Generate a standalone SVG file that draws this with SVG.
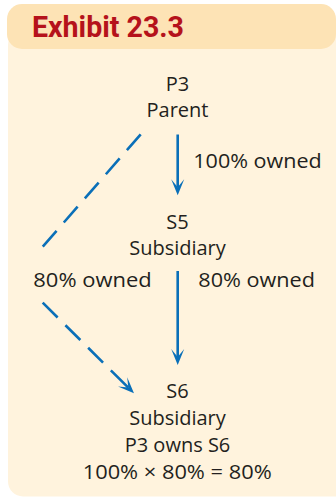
<svg xmlns="http://www.w3.org/2000/svg" width="336" height="498" viewBox="0 0 336 498">
  <style>
    .t { font-family: "Open Sans", "Noto Sans", "DejaVu Sans", sans-serif; font-size: 20px; fill: #231f20; text-anchor: middle; }
    .lbl { font-family: "Open Sans", "Noto Sans", "DejaVu Sans", sans-serif; font-size: 20px; fill: #231f20; }
    .title { font-family: Roboto, "Liberation Sans", sans-serif; font-weight: bold; font-size: 29px; fill: #b5121b; }
    .edge { stroke: #0a6fb8; stroke-width: 2.6; fill: none; }
    .dash { stroke-dasharray: 21 11; }
  </style>
  <defs>
    <marker id="arrow" viewBox="-17 -8 18 16" markerWidth="18" markerHeight="16" refX="-8" refY="0" orient="auto" markerUnits="userSpaceOnUse">
      <path d="M0,0 L-16,-6.5 L-8,0 L-16,6.5 Z" fill="#0a6fb8"/>
    </marker>
  </defs>
  <rect width="336" height="498" fill="#ffffff"/>
  <g id="frame">
    <rect x="8" y="30" width="345" height="466.5" rx="15" fill="#fff3dd"/>
    <rect x="7" y="4" width="329" height="45" rx="15" fill="#fde3b5"/>
    <text class="title" x="32" y="37" textLength="152" lengthAdjust="spacingAndGlyphs">Exhibit 23.3</text>
  </g>
  <g id="connectors">
    <line class="edge" x1="177.7" y1="134.5" x2="177.7" y2="187.3" marker-end="url(#arrow)"/>
    <line class="edge" x1="177.7" y1="271" x2="177.7" y2="357" marker-end="url(#arrow)"/>
    <line class="edge dash" x1="140.7" y1="134.3" x2="42.7" y2="246.7"/>
    <path class="edge" d="M42.7,302.7 L128.3,387.6" stroke-dasharray="21 11 21 11 21 11 30" marker-end="url(#arrow)"/>
    <text class="lbl" x="193.3" y="168.3" textLength="128.4" lengthAdjust="spacingAndGlyphs">100% owned</text>
    <text class="lbl" x="33.3" y="286.7" textLength="118.4" lengthAdjust="spacingAndGlyphs">80% owned</text>
    <text class="lbl" x="198.3" y="286.7" textLength="116.7" lengthAdjust="spacingAndGlyphs">80% owned</text>
  </g>
  <g id="P3">
    <text class="t" x="177.5" y="90.5">P3</text>
    <text class="t" x="177.5" y="116.7">Parent</text>
  </g>
  <g id="S5">
    <text class="t" x="177.5" y="229.3">S5</text>
    <text class="t" x="177.5" y="255.3">Subsidiary</text>
  </g>
  <g id="S6">
    <text class="t" x="177.5" y="398.3">S6</text>
    <text class="t" x="177.5" y="425">Subsidiary</text>
    <text class="t" x="177.5" y="451.7">P3 owns S6</text>
    <text class="t" x="177.2" y="479" textLength="189" lengthAdjust="spacingAndGlyphs">100% × 80% = 80%</text>
  </g>
</svg>
